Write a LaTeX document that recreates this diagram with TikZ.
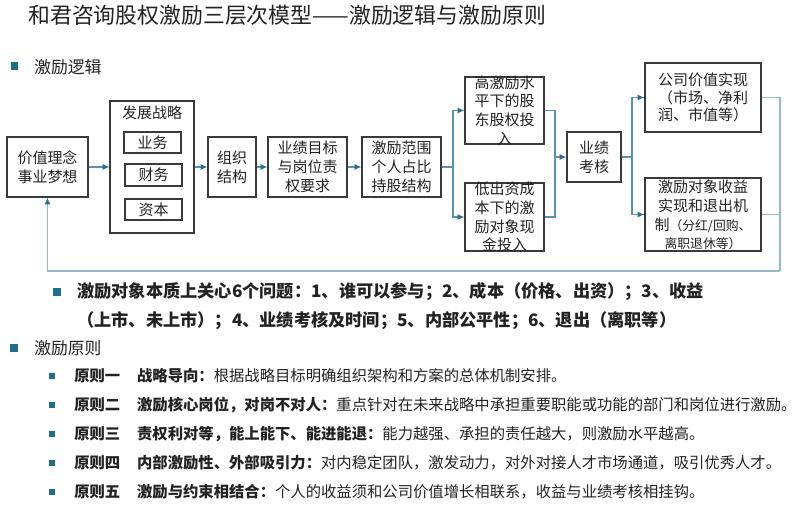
\documentclass[tikz,border=0pt]{standalone}
\usepackage{fontspec}
\setmainfont{Noto Sans CJK SC}
\usetikzlibrary{arrows.meta}
\definecolor{bulletc}{HTML}{1F6F8B}
\definecolor{arrc}{HTML}{5A93AC}
\definecolor{tipc}{HTML}{2C6C8C}
\definecolor{fbc}{HTML}{93BAC5}
\definecolor{bdc}{HTML}{3A3A3A}
\definecolor{txc}{HTML}{222222}
\begin{document}
\begin{tikzpicture}[x=0.75pt,y=-0.75pt,
  box/.style={draw=bdc,line width=0.9pt,inner sep=0pt,fill=white},
  txt/.style={font=\fontsize{11.25}{14.25}\selectfont,align=center,inner sep=0pt,text=txc},
  tall/.style={font=\fontsize{11.25}{14}\selectfont,align=center,inner sep=0pt,text=txc},
  conn/.style={draw=arrc,line width=1pt},
  arrow/.style={conn,-{Latex[length=5pt,width=4.5pt,color=tipc]}},
  fback/.style={draw=fbc,line width=1.3pt},
  bulletbig/.style={fill=bulletc,minimum size=5.5pt,inner sep=0pt},
  bulletsmall/.style={fill=bulletc,minimum size=4.8pt,inner sep=0pt},
  head/.style={anchor=west,inner sep=0pt,text=txc,font=\fontsize{12.6}{15}\selectfont},
  quest/.style={anchor=west,inner sep=0pt,text=txc,font=\fontsize{12.9}{15}\selectfont\bfseries},
  princ/.style={anchor=west,inner sep=0pt,text=txc,font=\fontsize{11.5}{14}\selectfont}]
\useasboundingbox (0,0) rectangle (800,507);

% title
\node[anchor=west,inner sep=0pt,text=txc,font=\fontsize{16.4}{19}\selectfont] (title) at (28,15)
  {和君咨询股权激励三层次模型——激励逻辑与激励原则};

% section 1 header
\node[bulletbig] (b1) at (14.5,66) {};
\node[head] (h1) at (34,67) {激励逻辑};

% boxes
\node[box,minimum width=60.75pt,minimum height=45pt] (v) at (47.5,167) {};
\node[box,minimum width=63pt,minimum height=99pt] (s) at (152,167) {};
\node[box,minimum width=42.75pt,minimum height=15.75pt] (yw) at (152.5,142.5) {};
\node[box,minimum width=42.75pt,minimum height=16.5pt] (cw) at (153.5,175) {};
\node[box,minimum width=42.75pt,minimum height=15.75pt] (zb) at (153.5,209.5) {};
\node[box,minimum width=36pt,minimum height=45pt] (o) at (232,167) {};
\node[box,minimum width=59.25pt,minimum height=45pt] (y) at (307.5,167) {};
\node[box,minimum width=59.25pt,minimum height=45pt] (r) at (401.5,167) {};
\node[box,minimum width=59.25pt,minimum height=50.25pt] (h) at (504.5,110.5) {};
\node[box,minimum width=59.25pt,minimum height=51pt] (l) at (504.5,217) {};
\node[box,minimum width=40.5pt,minimum height=37.5pt] (k) at (594,157) {};
\node[box,minimum width=87pt,minimum height=51.75pt] (g) at (703,97.5) {};
\node[box,minimum width=87pt,minimum height=54.75pt] (e) at (703,214.5) {};

% texts in boxes
\node[txt] (tv) at (v) {价值理念\\事业梦想};
\node[txt] (ts) at (152,113) {发展战略};
\node[txt] (tyw) at (yw) {业务};
\node[txt] (tcw) at (cw) {财务};
\node[txt] (tzb) at (zb) {资本};
\node[txt] (to) at (o) {组织\\结构};
\node[txt] (ty) at (y) {业绩目标\\与岗位责\\权要求};
\node[txt] (tr) at (r) {激励范围\\个人占比\\持股结构};
\node[tall] (th) at (h) {高激励水\\平下的股\\东股权投\\入};
\node[tall] (tl) at (l) {低出资成\\本下的激\\励对象现\\金投入};
\node[txt] (tk) at (k) {业绩\\考核};
\node[txt,font=\fontsize{11.25}{13.2}\selectfont] (tg) at (g) {公司价值实现\\（市场、净利\\润、市值等）};
\node[tall] (te) at (703,215) {激励对象收益\\实现和退出机\\制{\fontsize{9.6}{10}\selectfont（分红/回购、}\\{\fontsize{9.6}{10}\selectfont 离职退休等）}};

% connectors
\draw[arrow] (v.east) -- (s.west);
\draw[arrow] (s.east) -- (o.west);
\draw[arrow] (o.east) -- (y.west);
\draw[arrow] (y.east) -- (r.west);
\coordinate (sp1) at (453,167);
\draw[conn] (r.east) -- (sp1);
\draw[arrow] (sp1) |- (h.west);
\draw[arrow] (sp1) |- (l.west);
\coordinate (mg) at (555,157);
\draw[conn] (h.east) -| (mg);
\draw[conn] (l.east) -| (mg);
\draw[arrow] (mg) -- (k.west);
\coordinate (sp2) at (632,157);
\draw[conn] (k.east) -- (sp2);
\draw[arrow] (sp2) |- (g.west);
\draw[arrow] (sp2) |- (e.west);
\coordinate (fr) at (780,271);
\coordinate (fl) at (47.5,271);
\draw[fback] (g.east) -| (fr);
\draw[fback] (e.east) -- (e.east -| fr);
\draw[fback,-{Latex[length=5pt,width=4.5pt,color=tipc]}] (fr) -- (fl) -- (v.south);

% six questions
\node[bulletbig] (b2) at (57,292) {};
\node[quest] (q1) at (77,292) {激励对象本质上关心6个问题：1、谁可以参与；2、成本（价格、出资）；3、收益};
\node[quest] (q2) at (77,321) {（上市、未上市）；4、业绩考核及时间；5、内部公平性；6、退出（离职等）};

% section 2 header
\node[bulletbig] (b3) at (14,348) {};
\node[head] (h2) at (34,348) {激励原则};

% principles
\node[bulletsmall] (p1b) at (52,376) {};
\node[princ] (p1) at (74,376) {\bfseries 原则一\hspace{1.1em}战略导向：\mdseries 根据战略目标明确组织架构和方案的总体机制安排。};
\node[bulletsmall] (p2b) at (52,405) {};
\node[princ] (p2) at (74,405) {\bfseries 原则二\hspace{1.1em}激励核心岗位，对岗不对人：\mdseries 重点针对在未来战略中承担重要职能或功能的部门和岗位进行激励。};
\node[bulletsmall] (p3b) at (52,434) {};
\node[princ] (p3) at (74,434) {\bfseries 原则三\hspace{1.1em}责权利对等，能上能下、能进能退：\mdseries 能力越强、承担的责任越大，则激励水平越高。};
\node[bulletsmall] (p4b) at (52,463) {};
\node[princ] (p4) at (74,463) {\bfseries 原则四\hspace{1.1em}内部激励性、外部吸引力：\mdseries 对内稳定团队，激发动力，对外对接人才市场通道，吸引优秀人才。};
\node[bulletsmall] (p5b) at (52,492) {};
\node[princ] (p5) at (74,492) {\bfseries 原则五\hspace{1.1em}激励与约束相结合：\mdseries 个人的收益须和公司价值增长相联系，收益与业绩考核相挂钩。};
\end{tikzpicture}
\end{document}
